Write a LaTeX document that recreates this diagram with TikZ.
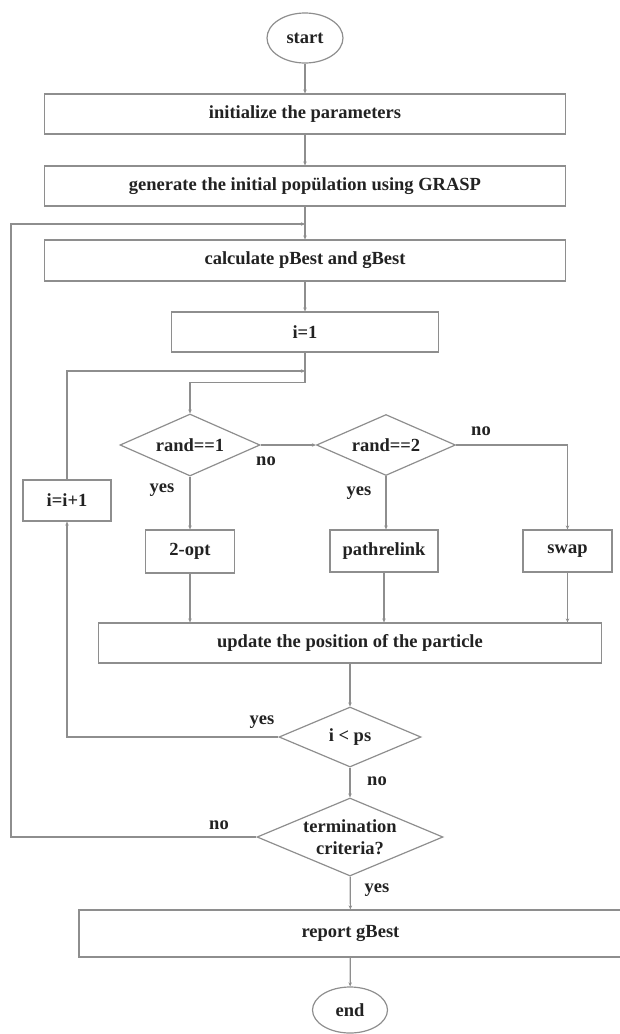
\documentclass[tikz,border=0pt]{standalone}
\usepackage{fontspec}
\setmainfont{Liberation Serif}
\usetikzlibrary{shapes.geometric,arrows.meta}
\definecolor{linec}{HTML}{8E8E8E}
\definecolor{txtc}{HTML}{222222}
\begin{document}
\begin{tikzpicture}[x=1pt,y=-1pt,
  every node/.style={font=\fontsize{18.5}{22}\selectfont\bfseries, text=txtc},
  box/.style={draw=linec, line width=1.2pt, inner sep=0pt, rectangle},
  dia/.style={draw=linec, line width=1.2pt, diamond, inner sep=0pt},
  oval/.style={draw=linec, line width=1.2pt, ellipse, inner sep=0pt},
  lbl/.style={inner sep=0pt},
  conn/.style={draw=linec, line width=1.2pt, -{Stealth[length=4pt,width=3.5pt]}}]
\useasboundingbox (0,0) rectangle (619,1034);

\node[oval, minimum width=76, minimum height=50] (start) at (305,38) {start};
\node[box, minimum width=521, minimum height=40] (init) at (305,114) {initialize the parameters};
\node[box, minimum width=521, minimum height=40] (gen) at (305,186) {generate the initial popülation using GRASP};
\node[box, minimum width=521, minimum height=41] (calc) at (305,260.5) {calculate pBest and gBest};
\node[box, minimum width=267, minimum height=40] (i1) at (305,332) {i=1};
\node[dia, minimum width=140, minimum height=62] (rand1) at (190,445) {};
\node[lbl] at (rand1) {rand==1};
\node[dia, minimum width=139, minimum height=61] (rand2) at (386,445) {};
\node[lbl] at (rand2) {rand==2};
\node[box, minimum width=88, minimum height=41] (iinc) at (67,500.5) {i=i+1};
\node[box, minimum width=89, minimum height=43] (opt) at (190,551.5) {2-opt};
\node[box, minimum width=108, minimum height=42] (pr) at (384,551) {pathrelink};
\node[box, minimum width=89, minimum height=42] (swap) at (567.5,551) {swap};
\node[box, minimum width=503, minimum height=40] (upd) at (350,643) {update the position of the particle};
\node[dia, minimum width=142, minimum height=60] (ips) at (350,737) {};
\node[lbl] at (ips) {i < ps};
\node[dia, minimum width=186, minimum height=78] (termd) at (350,837) {};
\node[lbl, align=center] at (termd) {termination\\criteria?};
\node[box, minimum width=543, minimum height=47] (rep) at (350.5,933.5) {report gBest};
\node[oval, minimum width=75, minimum height=46] (endn) at (350,1010) {end};

\coordinate (j1) at (305,224);
\coordinate (j2) at (305,371);
\coordinate (lc) at (11,837);

\draw[conn] (start) -- (init);
\draw[conn] (init) -- (gen);
\draw[conn] (gen) -- (calc);
\draw[conn] (calc) -- (i1);
\draw[conn] (i1.south) -- ++(0,30) -| (rand1.north);
\draw[conn] (rand1.east) -- (rand2.west);
\draw[conn] (rand1.south) -- (opt.north);
\draw[conn] (rand2.south) -- (rand2.south |- pr.north);
\draw[conn] (rand2.east) -| (swap.north);
\draw[conn] (opt.south) -- (opt.south |- upd.north);
\draw[conn] (pr.south) -- (pr.south |- upd.north);
\draw[conn] (swap.south) -- (swap.south |- upd.north);
\draw[conn] (upd) -- (ips);
\draw[conn] (ips.west) -| (iinc.south);
\draw[conn] (iinc.north) |- (j2);
\draw[conn] (ips) -- (termd);
\draw[conn] (termd.west) -- (lc) |- (j1);
\draw[conn] (termd) -- (rep);
\draw[conn] (rep) -- (endn);

\node[lbl] at (266,461) {no};
\node[lbl] at (162,490) {yes};
\node[lbl] at (481,431) {no};
\node[lbl] at (359,493) {yes};
\node[lbl] at (262,722) {yes};
\node[lbl] at (377,781) {no};
\node[lbl] at (219,825) {no};
\node[lbl] at (377,890) {yes};
\end{tikzpicture}
\end{document}
